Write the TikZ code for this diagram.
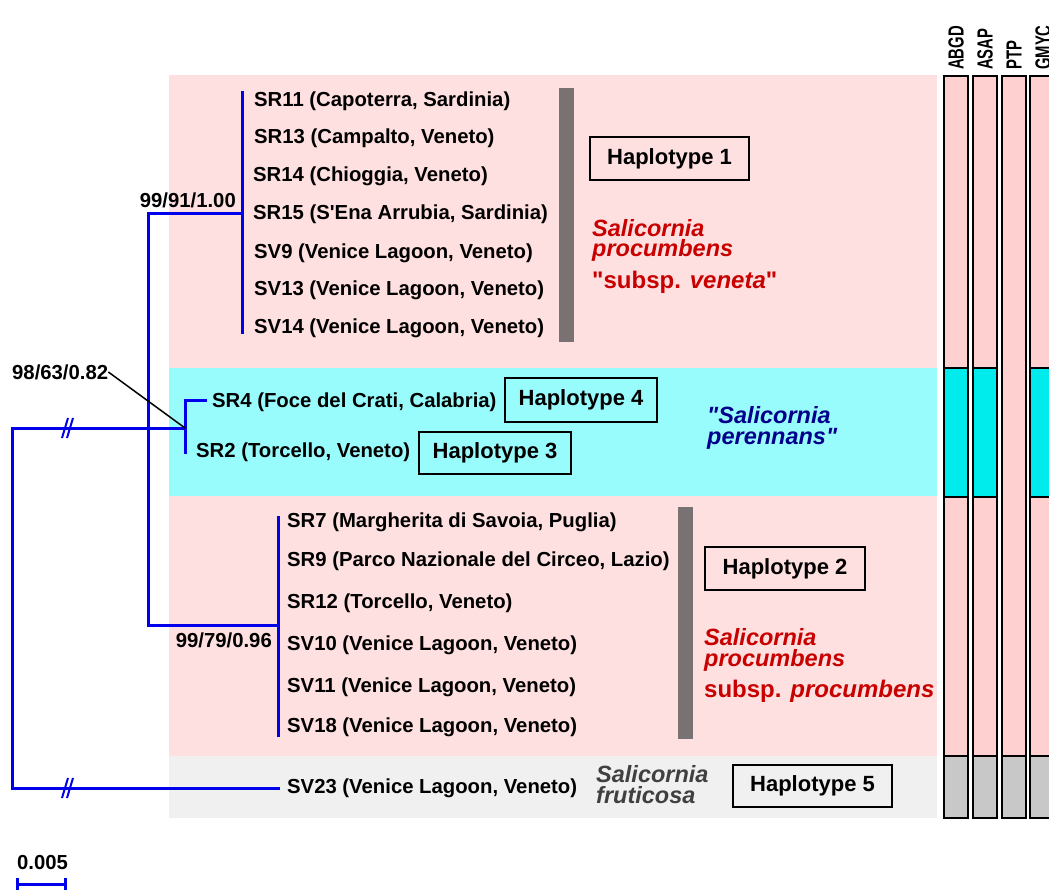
\documentclass[tikz,border=0pt]{standalone}
\usepackage{fontspec}
\usepackage{graphicx}
\setmainfont{Liberation Sans}[Ligatures=TeXOff]
\definecolor{pinkband}{RGB}{255,224,224}
\definecolor{cyanband}{RGB}{153,252,252}
\definecolor{grayband}{RGB}{240,240,240}
\definecolor{barpink}{RGB}{255,208,208}
\definecolor{barcyan}{RGB}{0,236,236}
\definecolor{bargray}{RGB}{200,200,200}
\definecolor{treeblue}{RGB}{0,0,235}
\definecolor{spred}{RGB}{200,0,0}
\definecolor{spnavy}{RGB}{0,0,140}
\definecolor{spgray}{RGB}{64,64,64}
\definecolor{hapbar}{RGB}{122,114,114}
\begin{document}
\begin{tikzpicture}[x=1pt,y=-1pt,
  tree/.style={draw=treeblue,line width=3pt,line cap=rect},
  leaf/.style={anchor=west,inner sep=0pt,font=\fontsize{20.3}{24}\selectfont\bfseries},
  supp/.style={anchor=east,inner sep=0pt,font=\fontsize{20.3}{24}\selectfont\bfseries},
  haplo/.style={draw=black,line width=2pt,fill=none,inner sep=0pt,font=\fontsize{22}{26}\selectfont\bfseries},
  species/.style={anchor=base west,inner sep=0pt,font=\fontsize{23.5}{24}\selectfont\bfseries\itshape},
  spupright/.style={anchor=base west,inner sep=0pt,font=\fontsize{24}{24}\selectfont\bfseries},
  hdr/.style={rotate=90,anchor=west,inner sep=0pt,font=\fontsize{19}{22}\selectfont\bfseries},
  seg/.style={draw=black,line width=2pt},
  hapline/.style={fill=hapbar,draw=none}
]
\useasboundingbox (0,0) rectangle (1049,889);
\begin{scope}
\clip (0,0) rectangle (1049,889);
% background bands
\fill[pinkband] (169,75) rectangle (937,368);
\fill[cyanband] (169,368) rectangle (937,496);
\fill[pinkband] (169,496) rectangle (937,756);
\fill[grayband] (169,756) rectangle (937,818);

% delimitation bars
\foreach \xa in {944,973,1030}{
  \draw[seg,fill=barpink] (\xa,76) rectangle ++(24,292);
  \draw[seg,fill=barcyan] (\xa,368) rectangle ++(24,129);
  \draw[seg,fill=barpink] (\xa,497) rectangle ++(24,259);
  \draw[seg,fill=bargray] (\xa,756) rectangle ++(24,62);
}
\draw[seg,fill=barpink] (1002,76) rectangle ++(24,680);
\draw[seg,fill=bargray] (1002,756) rectangle ++(24,62);

% column headers
\node[hdr] (hABGD) at (956,70) {\scalebox{0.78}[1.15]{ABGD}};
\node[hdr] (hASAP) at (985,70) {\scalebox{0.78}[1.15]{ASAP}};
\node[hdr] (hPTP) at (1014,70) {\scalebox{0.78}[1.15]{PTP}};
\node[hdr] (hGMYC) at (1043,70) {\scalebox{0.78}[1.15]{GMYC}};
\end{scope}

% haplotype grey bars
\fill[hapline] (559,88) rectangle (574,342);
\fill[hapline] (678,507) rectangle (693,739);

% tree coordinates
\coordinate (rt) at (12,428);
\coordinate (rb) at (12,788);
\coordinate (a1) at (148,213);
\coordinate (a2) at (148,625);
\coordinate (c1) at (185,428);
\coordinate (c1t) at (185,400);
\coordinate (c1b) at (185,452);
\coordinate (sr4tip) at (205,400);
\coordinate (t0) at (242,213);
\coordinate (tt) at (242,92);
\coordinate (tb) at (242,332);
\coordinate (b0) at (278,625);
\coordinate (bt) at (278,517);
\coordinate (bb) at (278,735);
\coordinate (sv23tip) at (278,788);
\coordinate (h1) at (68,428);
\coordinate (h2) at (68,788);

% tree
\draw[tree] (rt) -- (c1);
\draw[tree] (rt) -- (rb) -- (sv23tip);
\draw[tree] (a1) -- (a2);
\draw[tree] (a1) -- (t0);
\draw[tree] (a2) -- (b0);
\draw[tree] (tt) -- (tb);
\draw[tree] (bt) -- (bb);
\draw[tree] (c1b) -- (c1t) -- (sr4tip);
% broken-branch marks
\foreach \h in {h1,h2}{
  \draw[treeblue,line width=2pt] ([xshift=-6pt,yshift=-10pt]\h) -- ([xshift=0pt,yshift=10pt]\h);
  \draw[treeblue,line width=2pt] ([xshift=-1pt,yshift=-10pt]\h) -- ([xshift=5pt,yshift=10pt]\h);
}

% support values
\node[supp] (s1) at (236,200) {99/91/1.00};
\node[supp] (s2) at (272,640) {99/79/0.96};
\node[leaf] (s3) at (12,372) {98/63/0.82};
\draw[black,line width=1.5pt] (s3.east) -- (c1);

% leaves top clade
\node[leaf] (SR11) at (254,101) {SR11 (Capoterra, Sardinia)};
\node[leaf] (SR13) at (254,138) {SR13 (Campalto, Veneto)};
\node[leaf] (SR14) at (253,176) {SR14 (Chioggia, Veneto)};
\node[leaf] (SR15) at (253,214) {SR15 (S'Ena Arrubia, Sardinia)};
\node[leaf] (SV9) at (254,253) {SV9 (Venice Lagoon, Veneto)};
\node[leaf] (SV13) at (254,290) {SV13 (Venice Lagoon, Veneto)};
\node[leaf] (SV14) at (254,328) {SV14 (Venice Lagoon, Veneto)};
% cyan clade
\node[leaf] (SR4) at (212,402) {SR4 (Foce del Crati, Calabria)};
\node[leaf] (SR2) at (196,452) {SR2 (Torcello, Veneto)};
% bottom clade
\node[leaf] (SR7) at (287,522) {SR7 (Margherita di Savoia, Puglia)};
\node[leaf] (SR9) at (287,561) {SR9 (Parco Nazionale del Circeo, Lazio)};
\node[leaf] (SR12) at (287,603) {SR12 (Torcello, Veneto)};
\node[leaf] (SV10) at (287,645) {SV10 (Venice Lagoon, Veneto)};
\node[leaf] (SV11) at (287,687) {SV11 (Venice Lagoon, Veneto)};
\node[leaf] (SV18) at (287,727) {SV18 (Venice Lagoon, Veneto)};
% outgroup
\node[leaf] (SV23) at (287,788) {SV23 (Venice Lagoon, Veneto)};

% haplotype boxes
\node[haplo,minimum width=159pt,minimum height=43pt] (hap1) at (669.5,158.5) {Haplotype 1};
\node[haplo,minimum width=152pt,minimum height=44pt] (hap4) at (581,400) {Haplotype 4};
\node[haplo,minimum width=152pt,minimum height=42pt] (hap3) at (495,453) {Haplotype 3};
\node[haplo,minimum width=160pt,minimum height=43pt] (hap2) at (785,568.5) {Haplotype 2};
\node[haplo,minimum width=159pt,minimum height=42pt] (hap5) at (812.5,786) {Haplotype 5};

% species names
\node[species,text=spred] (spA1) at (592,236) {Salicornia};
\node[species,text=spred] (spA2) at (592,256) {procumbens};
\node[spupright,text=spred] (spA3) at (592,288) {"subsp. \textit{veneta}"};
\node[species,text=spnavy] (spC1) at (707,423) {"Salicornia};
\node[species,text=spnavy] (spC2) at (707,444) {perennans"};
\node[species,text=spred] (spB1) at (704,645) {Salicornia};
\node[species,text=spred] (spB2) at (704,666) {procumbens};
\node[spupright,text=spred] (spB3) at (704,697) {subsp. \textit{procumbens}};
\node[species,text=spgray] (spD1) at (596,782) {Salicornia};
\node[species,text=spgray] (spD2) at (596,803) {fruticosa};

% scale bar
\node[leaf] (sclbl) at (17,862) {0.005};
\coordinate (sc1) at (17,884);
\coordinate (sc2) at (65,884);
\draw[treeblue,line width=3pt] (sc1) -- (sc2);
\draw[treeblue,line width=3pt] ([yshift=-7pt]sc1) -- ([yshift=6pt]sc1);
\draw[treeblue,line width=3pt] ([yshift=-7pt]sc2) -- ([yshift=6pt]sc2);
\end{tikzpicture}
\end{document}
